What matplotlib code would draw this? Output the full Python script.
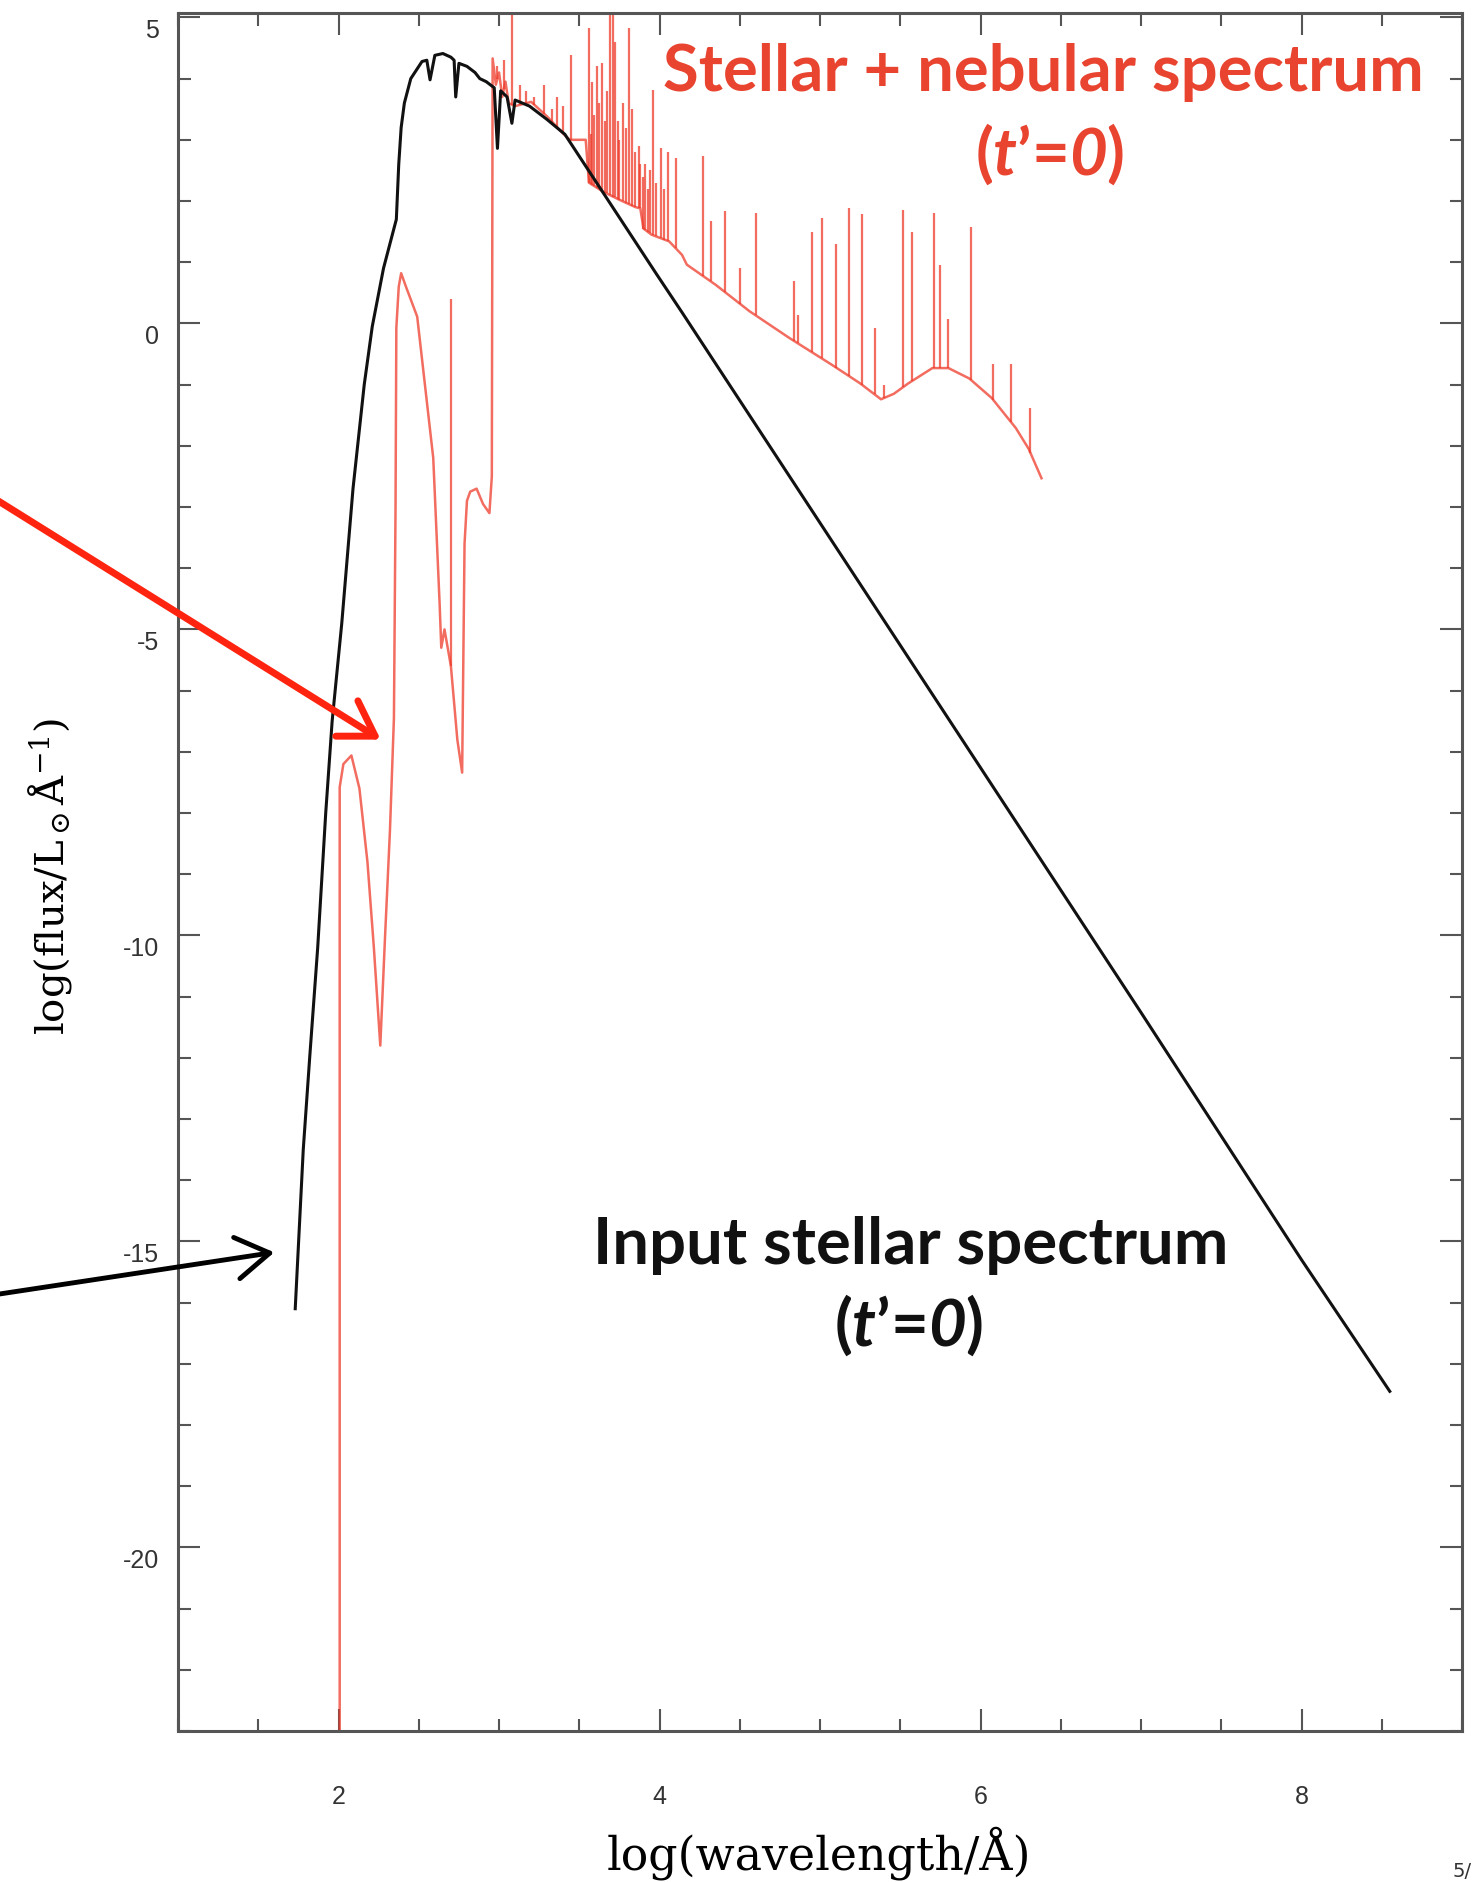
import numpy as np
import matplotlib
matplotlib.use('Agg')
import matplotlib.pyplot as plt
from matplotlib.patches import FancyArrowPatch
from matplotlib.ticker import MultipleLocator
from matplotlib.transforms import ScaledTranslation

# input stellar spectrum, log(wavelength/A) vs log(flux)
star_x = [1.73, 1.78, 1.82, 1.87, 1.92, 1.96, 2.02, 2.09, 2.16, 2.21, 2.28, 2.36,
          2.375, 2.39, 2.41, 2.45, 2.50, 2.52, 2.55, 2.57, 2.60, 2.65, 2.70, 2.72,
          2.73, 2.75, 2.80, 2.85, 2.88, 2.92, 2.97, 2.99, 3.01, 3.05, 3.08, 3.10,
          3.19, 3.30, 3.41, 3.57, 3.72, 3.85, 3.98, 4.14, 4.30, 4.50, 4.70, 5.12,
          5.50, 6.00, 7.00, 8.00, 8.55]
star_y = [-16.1, -13.5, -12.0, -10.2, -8.0, -6.5, -4.9, -2.7, -1.0, -0.05, 0.9, 1.7,
          2.6, 3.2, 3.6, 4.0, 4.2, 4.28, 4.3, 3.98, 4.38, 4.41, 4.35, 4.3,
          3.7, 4.25, 4.2, 4.1, 4.0, 3.95, 3.85, 2.86, 3.8, 3.7, 3.27, 3.65,
          3.55, 3.33, 3.09, 2.45, 1.85, 1.33, 0.81, 0.18, -0.46, -1.26, -2.06, -3.74,
          -5.26, -7.26, -11.26, -15.3, -17.45]

# stellar + nebular continuum
neb_x = [2.007, 2.007, 2.03, 2.08, 2.13, 2.18, 2.22, 2.26, 2.29, 2.32, 2.345, 2.355,
         2.36, 2.375, 2.39, 2.42, 2.49, 2.59, 2.63, 2.64, 2.66, 2.70, 2.74, 2.77,
         2.785, 2.80, 2.82, 2.86, 2.90, 2.94, 2.955, 2.96, 2.98, 3.00, 3.02, 3.04,
         3.06, 3.10, 3.20, 3.30, 3.40, 3.44, 3.54, 3.56, 3.65, 3.75, 3.85, 3.88,
         3.90, 3.95, 4.06, 4.14, 4.17, 4.35, 4.56, 4.81, 5.07, 5.25, 5.38, 5.46,
         5.55, 5.70, 5.80, 5.93, 6.07, 6.22, 6.30, 6.38]
neb_y = [-30.0, -7.58, -7.2, -7.06, -7.6, -8.8, -10.2, -11.8, -10.0, -8.3, -6.45, -3.0,
         -0.07, 0.6, 0.82, 0.6, 0.11, -2.2, -4.6, -5.3, -5.0, -5.6, -6.8, -7.34,
         -3.6, -2.9, -2.75, -2.7, -2.95, -3.1, -2.5, 4.33, 3.9, 4.1, 3.7, 3.95,
         3.6, 3.55, 3.62, 3.38, 3.1, 3.0, 3.0, 2.3, 2.15, 2.02, 1.9, 1.88,
         1.55, 1.45, 1.34, 1.12, 0.96, 0.63, 0.2, -0.24, -0.67, -0.98, -1.24, -1.15,
         -0.98, -0.73, -0.73, -0.9, -1.22, -1.71, -2.05, -2.53]

# nebular emission lines: position and peak
line_x = [2.70, 2.99, 3.03, 3.08, 3.13, 3.17, 3.22, 3.28, 3.33, 3.36, 3.40, 3.45,
          3.56, 3.57, 3.58, 3.59, 3.61, 3.62, 3.64, 3.66, 3.67, 3.69, 3.71, 3.72,
          3.74, 3.75, 3.77, 3.79, 3.81, 3.83, 3.85, 3.87, 3.88, 3.90, 3.91, 3.93,
          3.94, 3.96, 3.98, 4.01, 4.03, 4.05, 4.10, 4.27, 4.32, 4.41, 4.50, 4.60,
          4.84, 4.86, 4.95, 5.01, 5.10, 5.18, 5.26, 5.34, 5.40, 5.52, 5.57, 5.71,
          5.75, 5.80, 5.94, 6.08, 6.19, 6.31]
line_top = [0.4, 4.2, 4.3, 5.5, 3.9, 3.8, 3.7, 3.9, 3.5, 3.7, 3.56, 4.39,
            4.82, 3.1, 3.95, 3.4, 4.2, 3.6, 4.26, 3.3, 3.8, 5.3, 5.3, 4.6,
            3.3, 3.0, 3.6, 3.2, 4.82, 3.5, 2.8, 2.9, 2.6, 2.4, 2.6, 2.2,
            2.5, 3.82, 2.3, 2.87, 2.2, 2.8, 2.7, 2.73, 1.67, 1.83, 0.9, 1.8,
            0.69, 0.13, 1.5, 1.72, 1.29, 1.88, 1.78, -0.08, -1.0, 1.86, 1.5, 1.8,
            0.96, 0.07, 1.58, -0.67, -0.67, -1.39]

x_ticks = [2, 4, 6, 8]
y_ticks = [-20, -15, -10, -5, 0, 5]

red = '#ee3b2b'
red_text = '#e8442f'

plt.rcParams['axes.unicode_minus'] = False
plt.rcParams['mathtext.fontset'] = 'custom'
plt.rcParams['mathtext.rm'] = 'Lato:bold'
plt.rcParams['mathtext.bf'] = 'Lato:italic:bold'

fig = plt.figure(figsize=(14.79, 18.83), dpi=100)
ax = fig.add_axes([0.1204, 0.0802, 0.8681, 0.9123])

ax.plot(neb_x, neb_y, color=red, lw=1.8, alpha=0.75, zorder=2)
base = np.interp(line_x, neb_x, neb_y)
ax.vlines(line_x, base, line_top, colors=red, lw=1.6, alpha=0.75, zorder=2)
ax.plot(star_x, star_y, color='#111111', lw=2.2, zorder=3)

ax.set_xlim(1, 9)
ax.set_ylim(-23, 5.07)
ax.set_xticks(x_ticks)
ax.set_yticks(y_ticks)
ax.xaxis.set_minor_locator(MultipleLocator(0.5))
ax.yaxis.set_minor_locator(MultipleLocator(1))
ax.tick_params(which='both', direction='in', top=True, right=True,
               color='#555555', width=1.5)
ax.tick_params(which='major', length=16)
ax.tick_params(which='minor', length=9)
ax.tick_params(axis='x', pad=38, labelsize=18, labelcolor='#333333')
ax.tick_params(axis='y', pad=14, labelsize=18, labelcolor='#333333')
for lab in ax.get_xticklabels() + ax.get_yticklabels():
    lab.set_fontfamily('Liberation Sans')
for lab in ax.get_yticklabels():
    lab.set_transform(lab.get_transform() + ScaledTranslation(0, -0.1, fig.dpi_scale_trans))
for sp in ax.spines.values():
    sp.set_color('#555555')
    sp.set_linewidth(2.2)

ax.set_xlabel('log(wavelength/Å)', fontsize=33, family='DejaVu Serif', va='center')
ax.xaxis.set_label_coords(0.499, -0.0704)
ax.set_ylabel(r'log(flux/L$_\odot$Å$^{-1}$)', fontsize=29, family='DejaVu Serif',
              va='center', math_fontfamily='dejavuserif')
ax.yaxis.set_label_coords(-0.0997, 0.498)

t_eq_0 = r'($\mathbf{t}$’=$\mathbf{0}$)'
ax.text(6.39, 3.82, 'Stellar + nebular spectrum', color=red_text, fontsize=47,
        family='Lato', weight='bold', ha='center', va='baseline')
ax.text(6.43, 2.45, t_eq_0, color=red_text, fontsize=47,
        family='Lato', weight='bold', ha='center', va='baseline')
ax.text(5.565, -15.36, 'Input stellar spectrum', color='#111111', fontsize=47,
        family='Lato', weight='bold', ha='center', va='baseline')
ax.text(5.55, -16.68, t_eq_0, color='#111111', fontsize=47,
        family='Lato', weight='bold', ha='center', va='baseline')

# arrows coming in from the slide
fig.add_artist(FancyArrowPatch((-0.0135, 0.7395), (0.259, 0.6059), transform=fig.transFigure,
                               arrowstyle='->,head_length=0.8,head_width=0.5',
                               mutation_scale=30, lw=5, color='#ff2410'))
fig.add_artist(FancyArrowPatch((-0.0135, 0.3107), (0.1873, 0.3346), transform=fig.transFigure,
                               arrowstyle='->,head_length=0.8,head_width=0.5',
                               mutation_scale=30, lw=3.5, color='#000000'))

fig.text(0.982, 0.001, '5/', fontsize=14, color='#333333', ha='left', va='bottom')

fig.savefig('out.png', dpi=100)
